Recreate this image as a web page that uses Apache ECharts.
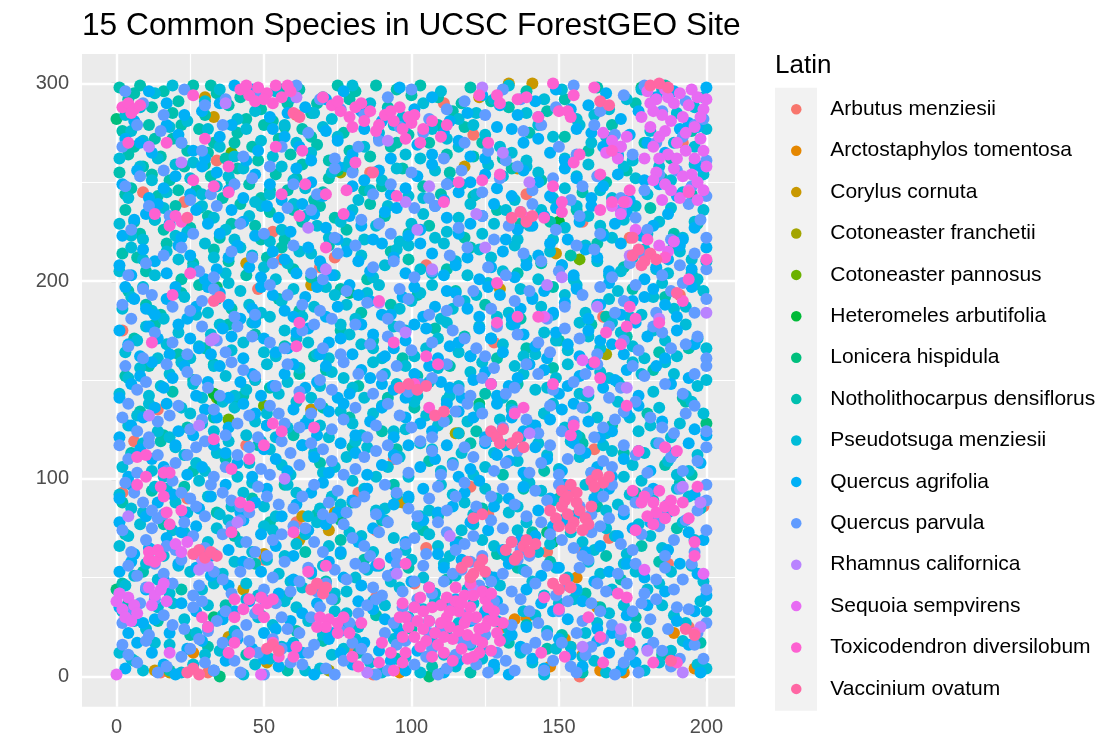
<!DOCTYPE html>
<html>
<head>
<meta charset="utf-8">
<script src="https://cdn.jsdelivr.net/npm/echarts@6/dist/echarts.min.js"></script>
<style>html,body{margin:0;padding:0;background:#fff}#chart{width:1120px;height:750px}</style>
</head>
<body>
<div id="chart"></div>
<script>
// ---- data (flat x,y pairs) ----
const speciesNames = ['Arbutus menziesii','Arctostaphylos tomentosa','Corylus cornuta','Cotoneaster franchetii','Cotoneaster pannosus','Heteromeles arbutifolia','Lonicera hispidula','Notholithocarpus densiflorus','Pseudotsuga menziesii','Quercus agrifolia','Quercus parvula','Rhamnus californica','Sequoia sempvirens','Toxicodendron diversilobum','Vaccinium ovatum'];
const xTicks = [0,50,100,150,200];
const yTicks = [0,100,200,300];
const xGridMinor = [25,75,125,175];
const yGridMinor = [50,150,250];

const arbutusXY = [86,255,61,284,23,240,69,207,34,261,53,225,48,196,56,211,9,245,2,175,74,212,105,208,128,169,174,222,192,270,191,193,111,290,165,182,139,244,2,93,24,90,61,78,82,93,50,59,88,40,80,14,31,2,15,2,44,117,6,119,14,135,88,74,94,110,87,1,162,115,167,70,187,57,158,63,146,63,126,82,120,96,105,65,101,47,157,0,194,25,199,86,47,150,121,274,158,230];
const arctostaphylosXY = [156,50,152,19,154,15,158,11,163,35,189,22,164,3,172,2,135,29,139,30,147,5,196,4,131,25,26,12,96,2];
const corylusXY = [30,293,33,283,44,209,66,198,123,293,133,300,141,300,118,258,136,257,149,214,130,196,43,44,50,62,66,135,74,83,72,74,13,3,18,2,38,20,51,7,62,69,63,81,95,88,97,88,116,123];
const cotFranchetiiXY = [166,163,115,123,76,255,72,3];
const cotPannosusXY = [39,265,34,141,38,130,157,211,50,137];
const heteromelesXY = [33,143,35,140,150,230];
const loniceraXY = [34,197,0,282,75,256,79,194,33,30,40,20,35,0,76,79,0,44,200,128,146,73,148,68,106,0,123,138,178,298];
const notholithocarpusXY = [1,298,4,292,8,299,12,288,16,296,21,291,26,299,30,284,34,295,38,289,44,282,49,287,53,281,58,290,62,297,66,285,70,293,75,299,81,296,88,299,95,297,103,299,109,293,114,286,120,298,127,291,139,296,146,286,163,298,176,290,
2,276,6,268,11,279,15,263,19,272,24,266,28,277,33,270,37,262,41,275,46,268,50,279,55,272,59,264,63,277,68,269,72,261,79,266,86,263,93,268,99,274,106,270,112,264,118,278,124,270,131,262,152,273,168,279,179,270,188,262,
1,255,5,247,9,258,14,243,18,251,23,258,27,246,32,253,36,242,41,257,45,249,49,242,54,254,58,246,63,259,67,241,72,252,84,246,97,257,104,248,113,255,121,243,144,251,158,245,173,256,195,244,
3,236,8,224,13,231,20,238,25,227,31,233,35,222,42,239,47,228,52,235,57,221,63,230,69,238,78,226,91,233,106,228,118,222,129,236,147,230,165,224,181,237,197,229,
2,214,10,205,17,219,26,209,33,216,44,203,51,212,60,206,72,218,85,201,99,211,120,217,136,204,154,213,172,207,189,218,
4,195,15,183,28,198,39,186,55,191,68,199,83,184,102,193,125,188,148,197,166,182,186,192,
6,171,21,163,38,178,57,167,76,175,97,161,118,172,139,166,161,178,184,164,
3,152,19,144,33,158,52,146,71,155,92,141,113,157,136,148,159,142,182,155,
8,134,24,126,41,138,60,122,79,131,101,136,122,124,145,133,168,127,193,139,
5,113,26,104,48,117,69,108,95,115,131,102,158,118,186,107,
12,94,34,83,57,97,80,88,109,81,138,95,163,86,191,98,
3,72,29,64,52,78,76,69,104,74,129,62,154,77,178,66,
9,53,22,44,47,57,71,48,99,55,125,43,147,58,171,49,
14,28,37,36,61,23,88,31,112,38,139,26,164,35,196,22,
6,8,31,15,58,3,82,12,107,5,133,17,158,2,185,11,
6,295,19,285,32,299,42,293,56,297,68,290,79,292,92,288,100,294,117,290,133,288,152,292,186,299,
4,264,13,272,22,279,31,265,40,270,48,261,57,278,66,273,77,275,95,270,109,279,121,263,140,275,160,266,195,276,
3,244,12,254,21,246,30,259,39,250,52,246,61,252,70,245,80,256,90,248,110,244,134,257,166,250,185,252,
6,230,16,226,28,237,39,229,49,221,60,236,74,232,86,239,99,224,137,229,156,236,189,224,
7,212,22,201,38,210,56,217,66,202,93,215,112,206,144,209,163,219,195,204,
10,188,22,194,47,181,62,185,76,196,93,188,115,195,137,181,175,196,
13,178,30,166,47,173,67,162,87,170,108,176,129,161,150,170,173,172,194,166,
11,157,26,150,43,142,62,153,82,147,102,152,125,143,148,156,170,149,192,141,
16,122,33,131,51,127,70,136,90,124,112,130,134,137,157,121,180,133,
15,119,37,110,58,103,80,116,106,109,120,118,145,104,172,113,195,102,
2,88,23,96,46,90,68,82,94,97,124,85,150,90,176,93,
16,77,40,71,64,63,90,79,116,68,141,73,166,61,190,75,
2,47,34,52,58,41,84,59,112,49,136,55,159,42,184,58,
4,37,25,21,49,31,74,39,100,24,126,33,151,21,176,30,
18,3,44,11,70,18,95,9,120,2,146,14,172,6,198,17];
const pseudotsugaXY = [3,284,13,295,24,281,35,297,47,286,60,293,73,282,86,290,97,283,110,296,122,285,133,299,145,292,156,282,167,287,178,297,190,285,199,293,
1,262,9,271,18,278,26,260,35,268,44,277,53,263,61,270,70,278,79,261,89,275,98,264,107,277,116,268,125,274,134,265,143,279,152,262,161,270,170,264,181,276,196,268,
4,242,12,251,20,259,29,244,38,253,47,240,56,258,64,247,73,255,82,241,90,251,99,243,108,256,117,249,126,259,135,241,143,255,152,247,160,259,168,242,176,252,184,258,192,245,199,254,
1,229,9,221,16,237,24,225,33,232,40,221,49,238,56,226,64,233,72,222,80,236,88,228,96,220,104,234,112,225,120,239,128,229,136,221,144,236,152,227,160,233,168,222,176,238,184,230,192,222,199,236,
5,217,13,203,21,211,30,219,37,204,46,213,54,201,62,215,70,207,78,219,87,202,95,216,103,206,111,219,119,203,127,212,135,218,143,201,151,208,159,218,167,203,175,212,183,206,191,215,197,201,200,210,
2,186,9,197,16,181,23,192,31,184,38,199,45,188,52,182,60,196,67,187,74,193,81,181,89,198,96,186,103,194,110,181,118,190,126,199,133,184,141,192,148,183,156,198,163,188,170,195,178,183,185,199,193,187,199,195,
3,164,10,177,17,168,25,161,32,173,39,165,46,179,54,162,61,171,68,163,76,178,83,168,90,161,98,175,105,166,112,179,120,162,127,171,134,178,142,163,149,170,157,179,164,166,171,174,179,161,186,170,193,178,200,166,
1,143,8,156,15,147,22,159,29,141,37,152,44,145,51,158,58,149,66,141,73,154,80,146,87,159,95,148,102,142,109,156,116,147,124,159,131,141,138,153,146,146,153,158,160,142,167,151,175,159,182,144,189,153,197,147,
4,127,11,138,18,121,25,133,33,124,40,136,47,129,54,121,61,139,69,127,76,134,83,122,90,137,98,125,105,132,112,140,119,129,126,121,134,135,141,127,148,138,156,122,163,131,170,139,177,124,184,136,191,128,199,133,
2,106,9,118,16,101,23,112,30,104,38,119,45,108,52,115,59,102,67,113,74,106,81,119,88,101,96,111,103,118,110,104,117,113,125,106,132,117,139,101,146,112,154,119,161,103,168,114,175,107,183,118,190,102,197,112,
5,85,13,96,20,88,28,99,35,82,43,93,50,86,58,97,65,81,73,91,80,99,88,84,95,92,103,81,110,97,118,88,125,95,133,83,140,98,148,89,155,81,163,94,170,87,178,99,186,82,194,91,
1,66,8,77,16,61,23,73,31,68,38,79,46,63,53,74,61,67,68,78,76,62,83,71,91,79,98,64,106,72,113,61,121,77,128,66,136,74,143,63,151,79,158,68,166,75,173,62,181,71,192,78,
3,46,10,57,18,42,25,53,33,47,40,58,48,41,55,52,63,45,70,56,78,43,85,54,93,48,100,59,108,42,115,51,123,57,130,46,138,54,145,41,153,50,160,58,168,44,176,53,184,47,195,56,
2,33,10,24,19,37,27,22,36,31,44,39,53,26,61,35,70,21,78,32,87,38,95,25,104,34,112,21,121,37,129,28,138,33,146,23,155,39,163,27,172,36,180,22,189,31,198,38,
1,12,9,3,18,16,26,6,35,13,43,1,52,9,60,17,69,4,77,14,86,7,94,19,103,2,111,11,120,16,128,4,137,12,145,1,154,15,162,8,171,18,179,3,188,13,197,6,
8,288,19,299,30,291,41,282,54,296,67,285,80,299,92,286,104,290,116,282,128,292,139,285,151,297,162,284,173,292,185,297,196,288,
5,276,14,262,22,270,31,277,40,263,49,271,57,279,66,265,75,273,84,268,94,279,103,262,112,272,121,279,130,268,139,261,148,273,157,279,166,273,175,261,189,270,200,277,
8,258,17,245,25,252,34,248,43,257,52,244,60,251,69,243,78,258,86,246,95,257,104,242,113,250,122,244,131,253,139,258,148,242,156,253,164,246,172,258,180,244,188,251,196,259,
5,223,13,231,20,223,29,238,37,226,45,233,52,220,60,239,68,228,76,230,84,221,92,238,100,229,108,222,116,232,124,224,132,236,140,228,148,221,156,238,164,228,172,231,180,224,188,237,196,230,
1,205,9,211,17,215,26,207,33,212,42,217,50,207,58,209,66,214,74,203,83,213,91,208,99,218,107,204,115,210,123,216,131,205,139,211,147,215,155,201,163,210,171,205,179,216,187,204,195,211,
5,192,12,185,20,194,27,183,34,191,42,195,49,184,56,190,63,182,71,197,78,188,85,194,92,182,100,190,107,198,114,186,122,193,129,182,137,196,144,187,152,193,159,184,167,191,174,182,182,192,189,186,196,198,
7,170,14,161,21,174,28,167,35,178,43,169,50,164,57,175,65,169,72,161,79,173,87,166,94,177,101,162,109,171,116,164,123,177,131,168,138,162,145,174,153,165,160,172,168,179,175,167,182,175,190,162,197,171,
4,151,11,142,18,153,26,148,33,157,40,142,47,150,55,143,62,156,69,147,77,151,84,141,91,153,98,157,106,149,113,142,120,154,127,148,135,157,142,145,149,151,157,143,164,154,171,147,178,153,186,159,193,142,200,150,
7,132,14,124,22,136,29,128,36,139,44,122,51,133,58,126,65,130,72,121,80,128,87,133,94,124,101,139,109,127,116,123,123,136,130,130,137,121,145,133,152,126,159,136,166,123,174,131,181,127,188,121,195,139,
5,112,12,104,20,116,27,108,34,113,41,101,49,119,56,107,63,117,70,103,78,111,85,116,92,106,99,101,107,115,114,108,121,102,128,113,136,109,143,118,150,105,157,111,165,117,172,101,179,113,187,109,194,104,
1,92,9,83,17,95,24,83,31,91,39,86,46,98,54,81,61,93,69,85,76,87,84,95,91,85,99,90,106,84,114,92,121,82,129,90,136,86,144,94,151,87,159,97,166,84,174,92,182,89,190,95,198,85,
4,71,12,64,19,74,27,62,34,75,42,68,50,76,57,61,64,72,72,66,79,73,87,63,94,70,102,77,109,66,117,74,124,69,132,61,139,78,147,67,154,73,162,64,169,71,177,77,185,65,196,69,
6,51,14,49,21,56,29,44,36,52,44,47,51,59,59,48,66,52,74,42,81,50,89,56,96,45,104,50,111,57,119,44,126,51,134,59,141,48,149,55,156,43,164,52,172,57,180,44,188,53,199,48,
6,28,14,35,23,29,31,36,40,23,48,30,57,38,65,28,74,33,82,25,91,36,99,30,108,38,116,27,125,33,133,24,142,31,150,37,159,22,167,32,176,25,185,36,193,27,200,33,
5,9,13,17,22,2,30,11,39,18,47,6,56,15,64,3,73,11,81,19,90,2,98,10,107,18,115,5,124,9,132,19,141,7,149,14,158,10,166,2,175,13,184,7,192,18,200,4];
const qAgrifoliaXY = [6,281,17,290,29,286,40,299,52,283,64,288,77,296,90,281,101,287,113,281,124,294,136,284,149,297,160,289,171,282,183,293,194,280,200,298,
3,272,12,265,21,274,30,262,39,279,48,266,57,273,66,261,75,271,84,277,93,262,102,269,111,275,120,263,129,278,138,270,147,265,156,277,165,268,174,274,186,265,197,278,
2,249,11,242,20,253,29,258,38,246,47,254,56,241,66,250,75,258,84,251,93,244,102,253,111,241,120,250,129,247,138,256,147,243,156,252,165,248,174,241,184,249,198,258,
6,231,14,239,22,222,31,229,39,236,47,223,55,232,63,239,71,227,79,233,87,221,95,237,103,226,112,232,120,229,128,239,136,226,145,233,153,221,161,238,169,229,178,223,187,234,196,227,
1,208,9,216,17,204,25,213,34,206,41,218,49,202,57,211,65,217,73,203,82,210,90,219,98,204,107,214,115,208,123,201,131,215,139,208,147,219,155,203,163,212,171,219,179,201,187,211,195,206,200,217,
6,191,13,183,20,197,27,187,35,194,42,181,49,197,57,185,64,192,71,182,79,198,86,190,93,183,101,197,108,187,115,194,123,182,130,193,137,186,145,195,152,189,160,181,167,199,175,190,182,196,190,182,
1,175,8,162,14,171,21,178,28,166,36,176,43,161,50,171,58,166,65,176,72,169,80,163,87,173,94,166,101,178,109,161,116,169,123,176,131,164,138,173,146,161,153,168,160,175,168,168,176,179,190,175,
5,148,12,159,19,151,27,142,35,157,42,149,49,142,57,153,64,146,71,157,79,143,86,151,94,145,101,153,110,149,117,141,125,154,133,147,140,158,150,143,157,152,165,146,173,155,188,148,
1,121,9,131,17,138,26,122,34,131,43,138,51,127,60,135,68,122,77,138,86,129,94,121,103,128,112,138,121,131,129,138,138,124,147,130,155,138,164,121,173,133,196,125,
4,101,12,110,20,117,29,106,37,113,46,101,54,110,63,117,72,103,81,113,90,107,99,117,108,110,116,101,125,118,133,109,142,116,151,104,159,113,168,101,177,114,194,118,
1,90,10,81,19,92,28,85,37,97,47,88,56,81,66,93,75,83,85,95,94,87,104,95,114,86,123,99,133,90,143,84,152,97,162,90,172,82,182,95,
6,62,17,70,27,76,38,64,49,72,60,61,71,77,82,68,93,60,104,79,115,67,126,74,137,69,148,76,159,63,170,71,181,78,199,69,
5,58,16,49,27,55,38,46,49,53,60,49,72,58,83,46,94,52,106,45,117,59,128,50,139,44,150,55,162,48,173,57,186,43,197,52,
4,22,13,29,22,37,31,25,40,33,50,22,59,28,68,37,77,26,87,34,96,22,106,28,115,39,125,32,134,21,144,37,153,29,163,24,173,31,190,28,
3,4,12,12,20,1,29,18,37,8,46,14,55,5,63,12,72,19,80,6,89,13,98,3,107,16,116,8,124,14,133,1,141,9,150,19,158,5,167,12,176,7,194,16,
11,296,23,284,35,290,46,297,58,285,71,292,83,286,96,298,107,293,119,285,130,289,142,291,154,287,166,295,177,286,189,296,
8,270,17,279,26,266,35,273,44,261,53,277,62,268,71,276,80,264,89,272,98,279,107,264,116,271,125,262,134,277,143,272,152,261,161,275,170,263,180,270,191,277,
7,256,16,247,25,244,34,255,43,242,52,249,61,257,70,243,80,248,89,256,98,247,107,259,116,245,125,254,134,243,143,250,152,257,161,242,170,254,179,251,190,243,
2,223,10,234,18,229,27,236,35,224,43,230,51,238,59,225,67,234,75,221,83,228,91,235,99,223,108,238,116,224,124,233,132,221,141,228,149,237,157,230,165,223,173,235,182,228,192,221,
5,203,13,210,21,218,30,201,38,212,45,207,53,215,61,204,69,210,78,215,86,205,94,212,103,219,111,203,119,212,127,207,135,202,143,213,151,208,159,216,167,205,175,213,183,207,191,218,
3,197,10,186,17,191,24,181,31,197,38,188,46,186,53,193,60,182,68,197,75,187,82,193,90,183,97,192,104,182,112,195,119,186,126,197,134,181,141,191,148,184,156,196,164,188,171,183,179,192,186,188,195,197,
4,168,11,177,18,163,25,171,32,163,39,172,47,179,54,164,61,174,69,163,76,171,83,178,91,162,98,170,105,176,113,167,120,162,127,171,135,178,142,167,149,174,157,162,164,170,172,163,180,172,186,161,196,168,
1,141,8,152,16,146,23,157,31,149,38,141,46,153,53,147,60,158,68,149,75,141,83,155,90,148,98,141,106,157,113,146,121,150,129,142,136,151,145,155,153,147,161,158,169,150,177,142,183,157,194,151,
5,127,13,136,21,124,30,135,38,126,47,133,55,121,64,128,72,134,81,122,90,136,98,131,107,124,116,134,125,121,134,131,142,127,151,135,160,129,168,124,177,137,185,129,200,122,
8,115,16,106,24,102,33,117,41,108,50,115,58,104,67,111,76,118,85,102,94,112,103,106,112,117,120,105,129,112,138,103,146,110,155,118,163,106,172,110,181,104,189,113,198,108,
5,97,14,88,23,82,32,91,42,83,51,95,61,87,70,98,80,89,89,82,99,91,109,83,118,93,128,86,138,96,147,90,157,83,167,95,177,88,187,83,196,92,
1,78,11,65,22,73,32,61,43,79,54,66,65,74,76,63,87,75,98,68,109,62,120,78,131,64,142,71,153,79,164,66,175,75,187,64,194,73,
1,53,10,44,21,57,32,51,43,58,55,42,66,53,77,50,88,56,100,48,111,55,122,43,133,57,144,51,156,44,167,53,179,50,191,57,200,41,
1,35,9,27,18,22,27,33,36,29,45,38,54,24,63,32,73,22,82,38,91,29,101,35,110,24,120,28,129,38,139,25,148,33,158,38,168,22,180,36,196,33,
7,17,16,6,24,14,33,3,41,19,50,9,59,15,67,1,76,12,84,17,93,8,102,13,111,2,120,18,128,6,137,15,145,4,154,11,163,18,171,3,180,14,189,8,198,2];
const qParvulaXY = [9,290,23,297,37,292,61,299,76,287,92,293,106,282,118,291,131,297,143,283,155,299,172,294,185,286,199,282,
7,279,22,270,43,263,65,275,82,268,96,278,111,262,126,266,138,276,150,268,162,279,175,264,192,273,200,261,
8,253,25,241,40,249,52,258,68,244,80,255,93,249,106,242,117,256,130,252,141,246,154,241,163,253,179,246,190,256,200,243,
5,226,18,233,34,238,50,224,66,236,83,231,93,224,108,238,124,233,133,228,141,239,157,233,171,236,180,226,194,239,200,222,
4,203,16,213,28,205,39,215,53,209,66,204,75,214,87,207,101,202,113,213,126,207,138,214,150,205,162,216,174,209,185,203,196,214,200,206,
5,181,12,193,25,185,33,196,47,183,58,193,69,185,78,195,92,181,99,191,112,185,121,195,135,190,146,181,158,193,169,184,176,198,188,195,196,184,200,191,
4,167,13,174,24,163,34,170,41,177,52,169,63,175,70,166,81,178,92,172,100,165,114,175,122,166,129,177,143,169,152,176,163,163,172,170,182,177,188,166,197,172,200,161,
3,157,10,149,24,154,31,146,39,159,47,152,62,144,69,150,77,159,90,152,99,144,107,151,120,142,128,156,135,146,143,153,155,149,163,158,171,146,179,152,192,143,200,157,
2,131,7,124,14,129,21,137,29,130,37,122,45,132,52,137,57,128,66,133,73,125,81,136,88,127,96,132,107,121,115,134,124,133,131,126,139,130,151,124,158,136,165,126,172,134,181,131,189,123,196,137,
1,117,7,103,14,112,20,108,27,116,33,101,41,112,49,105,56,119,62,107,70,115,77,102,84,111,92,117,99,103,107,114,114,107,121,111,128,104,136,114,144,108,150,102,157,115,165,109,172,117,180,103,188,111,200,116,
3,98,9,88,16,82,22,93,27,86,32,97,39,89,45,83,51,91,60,85,67,97,72,88,78,83,84,91,91,97,99,85,106,90,112,84,118,98,127,91,135,87,142,94,150,97,157,86,165,91,172,84,180,93,187,87,197,84,200,97,
2,74,10,69,14,80,20,64,26,71,33,62,39,76,44,68,51,61,56,72,64,75,70,63,77,77,84,66,89,73,95,62,101,70,109,78,115,64,121,71,127,79,134,68,140,61,147,72,155,65,161,73,167,80,175,64,184,76,189,69,196,63,200,74,
1,42,7,51,13,57,19,47,26,41,30,56,36,49,42,53,50,44,57,58,62,48,68,43,74,54,81,57,87,45,92,51,97,43,104,56,111,48,117,54,123,46,131,52,136,59,142,47,149,41,157,55,163,47,170,52,179,42,186,55,192,49,200,44,
2,27,8,37,16,31,23,24,29,38,34,28,41,21,47,32,54,37,58,24,66,30,73,39,79,27,85,36,91,22,99,29,102,39,110,25,118,31,125,21,131,34,137,39,143,27,150,33,156,22,161,37,168,26,175,33,183,39,187,24,194,34,200,27,
2,16,7,7,14,2,22,10,28,19,33,3,40,8,45,18,50,1,56,14,63,6,67,16,74,1,80,17,85,9,92,3,98,18,105,10,109,1,117,19,122,6,129,12,135,3,142,17,148,8,156,2,161,15,169,1,174,11,182,17,188,5,199,9,
3,296,16,284,30,289,48,296,69,292,84,284,100,297,112,287,125,284,137,292,149,288,164,286,179,299,193,291,
2,268,15,276,29,266,36,279,56,268,74,262,89,271,104,275,118,270,132,261,144,279,156,264,169,274,183,270,196,279,
3,248,16,256,32,244,46,252,60,249,74,257,87,244,100,255,112,249,124,245,136,258,148,252,158,248,171,242,184,254,195,248,
11,238,26,224,42,229,58,237,74,222,89,229,101,237,116,227,128,221,137,235,149,226,164,224,176,232,188,221,198,231,
10,209,22,217,33,202,46,212,60,218,70,201,81,218,94,210,107,205,119,217,132,203,144,210,156,218,168,202,179,213,191,208,
2,188,9,196,19,187,29,190,40,182,52,198,63,188,73,181,85,189,96,196,106,183,116,190,127,186,140,195,152,187,164,197,172,190,183,184,192,199,
9,161,19,169,29,177,37,164,46,172,57,166,67,178,76,163,86,168,96,177,107,169,118,171,125,162,136,173,147,164,157,171,167,177,177,165,185,174,193,168,
7,145,17,158,27,150,35,142,43,155,54,147,58,158,73,145,82,153,87,143,95,157,103,148,112,158,116,145,124,151,132,143,139,158,148,145,159,153,167,141,175,157,186,148,196,153,
4,138,11,121,18,132,25,125,33,135,41,128,48,121,55,133,62,126,69,138,77,130,85,121,92,138,100,126,111,129,119,138,128,122,135,134,143,123,147,137,155,129,162,121,169,130,176,139,185,126,193,133,200,124,
4,110,11,118,17,104,24,112,30,119,37,106,45,116,52,102,59,113,66,118,73,109,81,105,88,114,95,110,103,119,110,102,118,116,125,119,132,108,140,103,147,117,153,110,161,103,168,106,176,112,184,118,192,104,197,109,
6,93,12,84,19,99,25,90,30,81,36,93,42,86,48,96,55,87,63,91,70,82,75,94,81,88,88,82,95,93,102,81,109,96,115,91,122,86,131,95,139,81,146,89,153,92,161,82,168,97,176,88,184,81,191,95,200,89,
5,63,12,75,17,66,23,78,30,65,36,72,42,79,47,63,53,69,60,76,67,68,73,80,80,70,86,61,92,78,98,67,105,62,112,73,118,67,124,61,131,75,137,64,144,78,151,69,158,61,164,76,171,67,178,72,186,61,193,79,
4,56,10,45,16,52,22,59,28,46,33,53,39,42,45,57,53,50,59,43,65,55,71,47,78,49,84,55,90,41,95,57,101,48,107,42,114,52,120,58,127,48,134,43,139,53,146,56,153,46,160,59,166,43,173,47,176,57,183,49,189,44,195,57,
5,33,11,21,13,39,19,26,26,35,31,23,37,33,44,26,50,39,56,30,62,22,69,35,76,23,82,32,88,39,94,27,97,35,106,22,114,35,121,29,128,38,134,26,140,33,146,21,153,38,158,28,164,33,171,21,178,37,181,29,190,35,197,22,
4,11,10,18,17,5,25,14,30,7,36,17,42,2,48,12,53,19,59,7,65,12,71,4,77,8,83,14,88,1,95,16,101,6,107,14,112,4,115,11,120,17,126,2,132,8,139,14,145,3,151,17,154,5,159,11,165,19,172,7,177,2,185,13,191,9,196,16];
const rhamnusXY = [37,290,11,268,22,260,65,227,92,271,71,206,32,170,33,171,89,189,61,293,124,298,131,265,140,250,106,248,102,226,122,234,125,217,107,206,146,198,151,202,174,213,163,187,184,181,200,184,171,268,98,240,98,174,4,81,11,132,28,127,41,78,57,100,29,59,31,56,28,54,85,2,95,52,113,71,140,123,160,144,173,146,192,96,198,88,158,15,171,24,192,2,198,25,180,13,121,44];
const sequoiaXY = [180,296,183,292,186,297,189,290,191,295,194,289,197,293,199,287,185,284,188,281,192,283,196,278,181,278,184,273,198,272,190,270,193,266,187,264,196,262,200,258,189,257,192,253,197,250,186,249,183,255,199,246,194,246,179,262,182,268,165,275,168,271,171,268,173,273,166,265,170,262,168,238,171,234,173,240,176,226,184,218,187,215,189,220,0,38,2,34,4,40,6,36,3,30,5,28,1,42,7,32,11,45,13,41,15,44,17,38,12,36,16,47,20,67,22,63,24,68,0,1,49,1,18,12,179,54,199,52,145,182,158,160,
182,286,187,293,195,297,198,283,184,262,190,262,195,254,188,246,182,251,199,266,186,276,193,275,200,292,178,283,181,290,191,242,197,241,185,241];
const toxicodendronXY = [2,288,4,290,6,287,8,289,5,285,
42,297,45,294,48,298,51,295,54,299,56,293,59,296,47,291,53,290,44,299,58,299,50,292,
70,293,73,289,76,286,79,283,81,288,84,281,86,286,89,279,91,284,94,281,97,277,99,283,75,291,88,276,93,286,96,288,83,290,80,278,100,280,101,284,104,277,107,281,110,273,103,270,112,279,98,272,
17,270,26,294,30,272,38,258,18,228,20,233,22,230,13,234,4,270,26,251,33,248,38,245,64,249,71,244,77,234,78,246,56,244,54,268,63,266,62,233,89,190,95,243,71,217,81,260,25,204,19,193,12,169,61,167,62,179,94,169,
123,294,129,294,130,290,136,292,139,293,143,283,148,300,150,286,153,286,155,294,162,298,154,283,126,270,130,254,139,232,145,232,151,235,157,264,155,260,164,254,168,266,174,246,168,240,172,240,164,236,194,245,116,250,111,240,124,251,129,199,148,248,151,240,180,221,186,212,194,201,192,190,200,211,174,187,176,181,173,177,184,179,171,168,166,174,162,159,143,182,136,182,129,179,105,162,109,158,
11,63,14,64,15,61,11,59,13,58,7,111,10,112,10,101,7,97,16,103,18,103,15,96,16,91,17,83,18,77,22,84,42,88,45,86,39,73,53,128,56,124,50,117,45,110,33,120,39,105,62,141,67,126,60,73,65,53,71,56,89,57,98,57,
40,39,43,34,40,30,45,39,49,40,51,37,48,34,53,39,50,30,69,30,72,29,75,27,77,30,71,25,75,22,68,25,90,17,93,12,97,20,98,30,97,37,94,3,97,7,89,7,29,30,31,25,38,12,40,17,45,12,53,17,55,10,60,10,61,15,79,22,80,10,82,5,83,27,
96,30,99,25,101,20,103,15,104,33,106,28,108,22,109,16,110,36,111,12,112,30,113,25,114,19,115,38,116,33,117,14,118,27,119,21,120,35,121,10,122,30,123,24,124,17,125,39,126,28,127,13,128,33,129,22,130,18,112,40,118,41,124,43,107,10,114,8,101,35,98,12,131,27,115,45,103,40,120,47,127,42,104,24,107,35,106,45,110,27,113,33,116,23,119,30,122,19,125,25,128,28,117,37,121,41,111,20,105,18,102,28,126,35,123,12,119,9,
160,30,164,20,170,42,173,40,145,40,150,34,144,12,152,10,165,7,174,17,182,7,190,7,196,22,178,88,179,91,182,88,183,83,186,86,188,89,180,81,186,80,189,84,176,74,182,77,192,88,196,68,194,80,175,94,184,94,138,136,135,133,155,127,154,122,148,148,164,151,173,137,177,114,186,116,190,114,197,96,196,61,127,148,106,136,101,148];
const vacciniumXY = [147,84,149,80,151,86,153,82,155,78,157,84,159,80,161,86,150,76,156,88,154,75,160,77,152,89,158,74,151,94,154,97,156,93,153,91,161,99,163,102,165,98,167,101,162,96,132,64,134,68,136,61,138,66,140,63,142,67,135,59,139,69,117,55,119,58,121,52,123,56,125,53,120,50,124,59,148,47,150,44,152,49,154,45,96,146,99,148,102,145,105,147,127,124,129,121,131,125,134,118,136,121,138,116,130,118,181,299,184,300,187,298,175,213,177,216,179,210,181,214,183,211,178,208,134,232,137,235,139,230,141,233,26,62,28,64,30,60,32,63,34,61,66,44,68,47,70,42,71,45,24,2,26,4,28,1,51,14,53,16,55,13,108,132,111,134,121,80,124,82,193,24,196,21,188,8,164,291,167,289,175,222,190,194,60,285,62,283,33,190,35,192,24,232,87,255];

const palette = ['#F8766D','#E58700','#C99800','#A3A500','#6BB100','#00BA38','#00BF7D','#00C0AF','#00BCD8','#00B0F6','#619CFF','#B983FF','#E76BF3','#FD61D1','#FF67A4'];
const speciesData = [arbutusXY,arctostaphylosXY,corylusXY,cotFranchetiiXY,cotPannosusXY,heteromelesXY,loniceraXY,notholithocarpusXY,pseudotsugaXY,qAgrifoliaXY,qParvulaXY,rhamnusXY,sequoiaXY,toxicodendronXY,vacciniumXY];

function toPairs(flat){ const out=[]; for(let i=0;i+1<flat.length;i+=2){ out.push([flat[i],flat[i+1]]); } return out; }

const FONT = '"Liberation Sans", Arial, Helvetica, sans-serif';
const chart = echarts.init(document.getElementById('chart'), null, {renderer:'canvas'});

const gridLines = [];
xTicks.forEach(v=>gridLines.push({xAxis:v, lineStyle:{width:2.4}}));
xGridMinor.forEach(v=>gridLines.push({xAxis:v, lineStyle:{width:1.2}}));
yTicks.forEach(v=>gridLines.push({yAxis:v, lineStyle:{width:2.4}}));
yGridMinor.forEach(v=>gridLines.push({yAxis:v, lineStyle:{width:1.2}}));

const series = [{
  name:'__grid', type:'scatter', data:[], silent:true, z:1,
  markLine:{silent:true, z:1, animation:false, symbol:['none','none'], label:{show:false},
    lineStyle:{color:'#FFFFFF', type:'solid'}, emphasis:{disabled:true}, data:gridLines}
}];
speciesNames.forEach((n,i)=>{
  series.push({name:n, type:'scatter', z:2, symbol:'circle', symbolSize:12,
    itemStyle:{color:palette[i], opacity:1}, emphasis:{disabled:true}, large:false,
    data:toPairs(speciesData[i])});
});

chart.setOption({
  animation:false,
  backgroundColor:'#FFFFFF',
  title:{text:'15 Common Species in UCSC ForestGEO Site', left:82, top:10, padding:0,
    textStyle:{fontFamily:FONT, fontSize:31.7, fontWeight:'normal', color:'#000000'}},
  grid:{left:82, right:385, top:54, bottom:43.3, show:true, backgroundColor:'#EBEBEB', borderWidth:0, containLabel:false},
  xAxis:{type:'value', min:-11.7, max:209.7,
    axisLine:{show:false}, splitLine:{show:false},
    axisTick:{show:true, length:5, lineStyle:{color:'#333333', width:1.2}, customValues:xTicks},
    axisLabel:{color:'#4D4D4D', fontSize:20, fontFamily:FONT, margin:11, customValues:xTicks}},
  yAxis:{type:'value', min:-15.3, max:314.9,
    axisLine:{show:false}, splitLine:{show:false},
    axisTick:{show:true, length:5, lineStyle:{color:'#333333', width:1.2}, customValues:yTicks},
    axisLabel:{color:'#4D4D4D', fontSize:20, fontFamily:FONT, margin:13, customValues:yTicks}},
  legend:{orient:'vertical', left:791, top:97.3, padding:0, icon:'circle', itemWidth:58, itemHeight:10.5,
    itemGap:17.4, data:speciesNames, selectedMode:false,
    textStyle:{fontFamily:FONT, fontSize:21, lineHeight:24, color:'#000000'}},
  graphic:[
    {type:'rect', z:-1, shape:{x:775, y:87.7, width:42, height:623}, style:{fill:'#F2F2F2'}, silent:true},
    {type:'text', x:775, y:66, style:{text:'Latin', font:'26px '+FONT, fill:'#000000', textVerticalAlign:'middle'}, silent:true}
  ],
  series:series
});
</script>
</body>
</html>
